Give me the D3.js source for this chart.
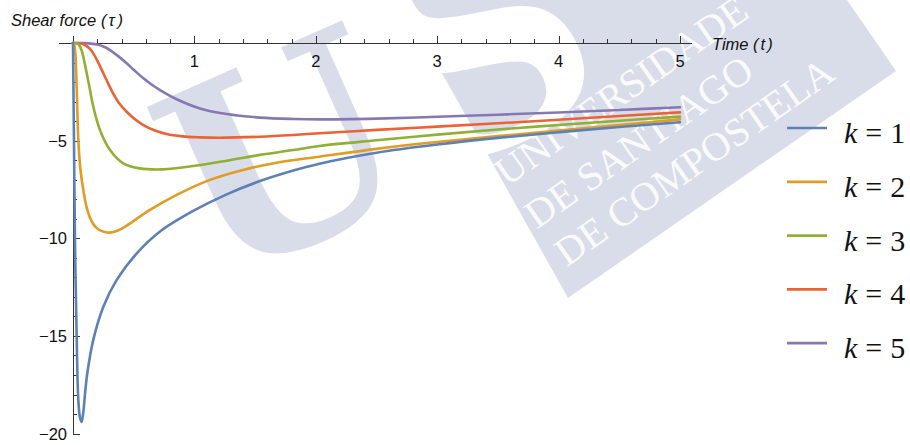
<!DOCTYPE html>
<html>
<head>
<meta charset="utf-8">
<script src="https://cdn.jsdelivr.net/npm/d3@7"></script>
<style>
  html, body { margin: 0; padding: 0; background: #fff; }
  svg { display: block; }
</style>
</head>
<body>
<svg id="chart" width="910" height="445"></svg>
<script>
// Shear force response tau(t) for five values of k
const seriesLabels = ["1", "2", "3", "4", "5"];
const seriesColors = ["#5e81b5", "#e19c24", "#8fb032", "#eb6235", "#8778b3"];

const timeK1  = [0, 0.008, 0.016, 0.03, 0.044, 0.058, 0.071, 0.085, 0.1, 0.118, 0.167, 0.25, 0.36, 0.525, 0.717, 0.99, 1.266, 1.54, 1.815, 2.03, 2.5, 3.0, 3.5, 4.0, 4.5, 5.0];
const shearK1 = [0, -5, -10, -15, -18.3, -19.2, -19.4, -18.9, -17.9, -16.9, -15.2, -13.5, -12.13, -10.77, -9.65, -8.6, -7.75, -7.07, -6.53, -6.18, -5.62, -5.2, -4.86, -4.57, -4.3, -4.06];

const timeK2  = [0, 0.01, 0.02, 0.03, 0.044, 0.06, 0.085, 0.11, 0.14, 0.17, 0.21, 0.26, 0.305, 0.37, 0.442, 0.634, 0.854, 1.128, 1.4, 1.678, 2.03, 2.5, 3.0, 3.5, 4.0, 4.5, 5.0];
const shearK2 = [0, -0.1, -0.6, -2.2, -4.97, -6.4, -7.53, -8.35, -8.95, -9.3, -9.55, -9.68, -9.71, -9.6, -9.35, -8.55, -7.78, -7.01, -6.5, -6.13, -5.82, -5.42, -5.07, -4.77, -4.48, -4.2, -3.91];

const timeK3  = [0, 0.03, 0.05, 0.07, 0.09, 0.113, 0.14, 0.167, 0.222, 0.305, 0.414, 0.552, 0.744, 0.99, 1.266, 1.54, 1.815, 2.03, 2.5, 3.0, 3.5, 4.0, 4.5, 5.0];
const shearK3 = [0, -0.02, -0.1, -0.36, -0.85, -1.55, -2.4, -3.26, -4.45, -5.48, -6.16, -6.42, -6.47, -6.3, -6.03, -5.73, -5.48, -5.27, -4.98, -4.69, -4.43, -4.2, -3.98, -3.77];

const timeK4  = [0, 0.05, 0.08, 0.11, 0.14, 0.167, 0.2, 0.25, 0.29, 0.33, 0.38, 0.442, 0.5, 0.58, 0.67, 0.77, 0.9, 1.046, 1.21, 1.54, 1.815, 2.03, 2.5, 3.0, 3.5, 4.0, 4.5, 5.0];
const shearK4 = [0, -0.01, -0.05, -0.15, -0.3, -0.53, -0.9, -1.55, -2.08, -2.58, -3.08, -3.52, -3.85, -4.2, -4.47, -4.66, -4.78, -4.83, -4.85, -4.8, -4.71, -4.62, -4.45, -4.28, -4.11, -3.93, -3.74, -3.55];

const timeK5  = [0, 0.1, 0.15, 0.2, 0.25, 0.305, 0.37, 0.442, 0.5, 0.58, 0.65, 0.717, 0.854, 1.046, 1.266, 1.54, 1.815, 2.03, 2.5, 3.0, 3.5, 4.0, 4.5, 5.0];
const shearK5 = [0, -0.005, -0.03, -0.08, -0.18, -0.36, -0.66, -1.04, -1.37, -1.81, -2.14, -2.41, -2.88, -3.35, -3.64, -3.82, -3.89, -3.91, -3.87, -3.78, -3.67, -3.56, -3.43, -3.29];

const xTickLabels = [1, 2, 3, 4, 5];
const yTickLabels = [-5, -10, -15, -20];
const xAxisTitle = "Time";
const yAxisTitle = "Shear force";

const times = [timeK1, timeK2, timeK3, timeK4, timeK5];
const shears = [shearK1, shearK2, shearK3, shearK4, shearK5];

const svg = d3.select("#chart");
const x = d3.scaleLinear().domain([0, 5]).range([73, 680]);
const y = d3.scaleLinear().domain([0, -20]).range([43, 433.6]);

// ---- background emblem ----
const shade = "#d9ddea";
const wm = svg.append("g").attr("class", "emblem");
wm.append("g").attr("transform", "translate(282,152) rotate(-24)")
  .append("text")
  .attr("text-anchor", "middle").attr("y", 95)
  .attr("font-family", "DejaVu Serif").attr("font-weight", "bold").attr("font-size", 262)
  .attr("fill", shade).text("U");
wm.append("polygon")
  .attr("points", "568,298 896,71 847,0 401,0")
  .attr("fill", shade);
wm.append("g").attr("transform", "translate(505,96) rotate(-25)")
  .append("text")
  .attr("text-anchor", "middle").attr("y", 45)
  .attr("font-family", "DejaVu Serif").attr("font-weight", "bold").attr("font-size", 290)
  .attr("fill", "#ffffff").text("S");
const wmText = wm.append("g").attr("transform", "translate(507,187) rotate(-35)")
  .attr("font-family", "Liberation Serif").attr("font-size", 40)
  .attr("fill", "#ffffff").attr("fill-opacity", 0.9);
[["UNIVERSIDADE", 0, 0], ["DE SANTIAGO", 0, 52], ["DE COMPOSTELA", 3, 100]].forEach(([s, dx, dy]) => {
  wmText.append("text").attr("x", dx).attr("y", dy).text(s);
});

// ---- axes ----
const axisColor = "#333";
const axes = svg.append("g").attr("stroke", axisColor).attr("stroke-width", 1).attr("shape-rendering", "crispEdges");
const y0 = y(0), x0 = x(0);
axes.append("line").attr("x1", 59).attr("x2", 692).attr("y1", y0).attr("y2", y0);
axes.append("line").attr("x1", x0).attr("x2", x0).attr("y1", 36).attr("y2", y(-20) + 0.5);

// x ticks: majors every 1, minors every 0.2, pointing up
d3.range(1, 26).forEach(i => {
  const v = i * 0.2;
  const major = i % 5 === 0;
  axes.append("line")
    .attr("x1", Math.round(x(v)) + 0.5).attr("x2", Math.round(x(v)) + 0.5)
    .attr("y1", y0).attr("y2", y0 - (major ? 7 : 4));
});
// y ticks: majors every 5, minors every 1, pointing right
d3.range(1, 21).forEach(i => {
  const v = -i;
  const major = i % 5 === 0;
  axes.append("line")
    .attr("x1", x0).attr("x2", x0 + (major ? 7 : 4))
    .attr("y1", Math.round(y(v)) + 0.5).attr("y2", Math.round(y(v)) + 0.5);
});

const labels = svg.append("g").attr("font-family", "Liberation Sans, Arial, sans-serif").attr("font-size", 16.5).attr("fill", "#111");
xTickLabels.forEach(v => {
  labels.append("text").attr("x", x(v)).attr("y", y0 + 24).attr("text-anchor", "middle").text(v);
});
yTickLabels.forEach(v => {
  labels.append("text").attr("x", 67).attr("y", y(v) + 6).attr("text-anchor", "end")
    .text("\u2212" + Math.abs(v));
});

// axis titles
const yt = labels.append("text").attr("x", 11).attr("y", 25.5).attr("font-style", "italic");
yt.append("tspan").text(yAxisTitle + " (");
yt.append("tspan").attr("dx", 2).text("\u03c4");
yt.append("tspan").attr("dx", 3).text(")");
const xt = labels.append("text").attr("x", 712).attr("y", 50).attr("font-style", "italic");
xt.append("tspan").text(xAxisTitle + " (");
xt.append("tspan").attr("dx", 2).text("t");
xt.append("tspan").attr("dx", 2).text(")");

// ---- curves ----
const line = d3.line()
  .x(d => x(d[0]))
  .y(d => y(d[1]))
  .curve(d3.curveCatmullRom.alpha(0.5));

const curves = svg.append("g").attr("fill", "none").attr("stroke-width", 2.6)
  .attr("stroke-linejoin", "round").attr("stroke-linecap", "round");
// draw k=5 first so k=1 sits on top
for (let k = 4; k >= 0; k--) {
  const pts = times[k].map((t, i) => [t, shears[k][i]]);
  curves.append("path").attr("d", line(pts)).attr("stroke", seriesColors[k]);
}

// ---- legend ----
const legend = svg.append("g");
seriesLabels.forEach((lab, i) => {
  const ly = 128 + i * 53.8;
  legend.append("line").attr("x1", 787).attr("x2", 827).attr("y1", ly).attr("y2", ly)
    .attr("stroke", seriesColors[i]).attr("stroke-width", 2.7);
  const t = legend.append("text").attr("x", 844).attr("y", ly + 15)
    .attr("font-family", "Liberation Serif, Times New Roman, serif").attr("font-size", 30).attr("fill", "#111");
  t.append("tspan").attr("font-style", "italic").text("k");
  t.append("tspan").attr("dx", 8).text("=");
  t.append("tspan").attr("dx", 8).text(lab);
});
</script>
</body>
</html>
